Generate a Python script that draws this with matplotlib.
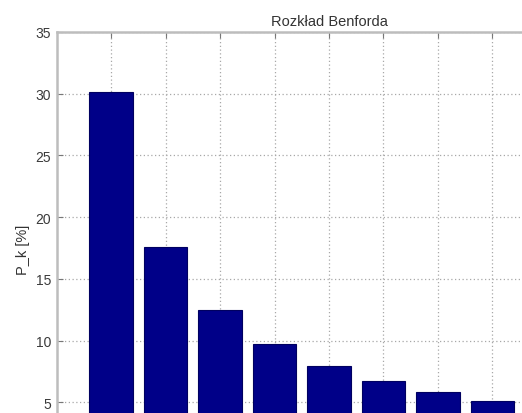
import numpy as np
import matplotlib
matplotlib.use("Agg")
from matplotlib import pyplot as plt

# Benford first-digit probabilities, in percent
digits = [1, 2, 3, 4, 5, 6, 7, 8, 9]
p_k = [30.1, 17.6, 12.5, 9.7, 7.9, 6.7, 5.8, 5.1, 4.6]
y_ticks = [5, 10, 15, 20, 25, 30, 35]

plt.rcParams["font.family"] = ["Liberation Sans", "DejaVu Sans"]

fig = plt.figure(figsize=(5.22, 4.14), dpi=100)
# axes run past the right and bottom edges of the canvas
ax = fig.add_axes([56.5 / 522, -51 / 414, 545 / 522, 432 / 414])

ax.bar(digits, p_k, width=0.8, color="#000088", edgecolor="#000060",
       linewidth=0.8, zorder=3)

ax.set_xlim(0, 10)
ax.set_ylim(0, 35)
ax.set_xticks(digits)
ax.set_yticks(y_ticks)
ax.set_xticklabels([])
ax.grid(True, linestyle=(0, (1, 2)), color="#a8a8a8", linewidth=0.9, zorder=0)
ax.tick_params(direction="in", length=4, color="#777777", top=True, right=True,
               labelsize=10, labelcolor="#3a3a3a", pad=4)
for side in ("left", "top", "right", "bottom"):
    ax.spines[side].set_color("#bdbdbd")
    ax.spines[side].set_linewidth(1.8)

ax.set_title("Rozkład Benforda", fontsize=10.5, color="#333333", pad=5)
ax.set_ylabel("P_k [%]", fontsize=10.5, color="#333333")
ax.yaxis.set_label_coords(-27 / 545, (465 - 250) / 432)

fig.savefig("out.png", dpi=100)
